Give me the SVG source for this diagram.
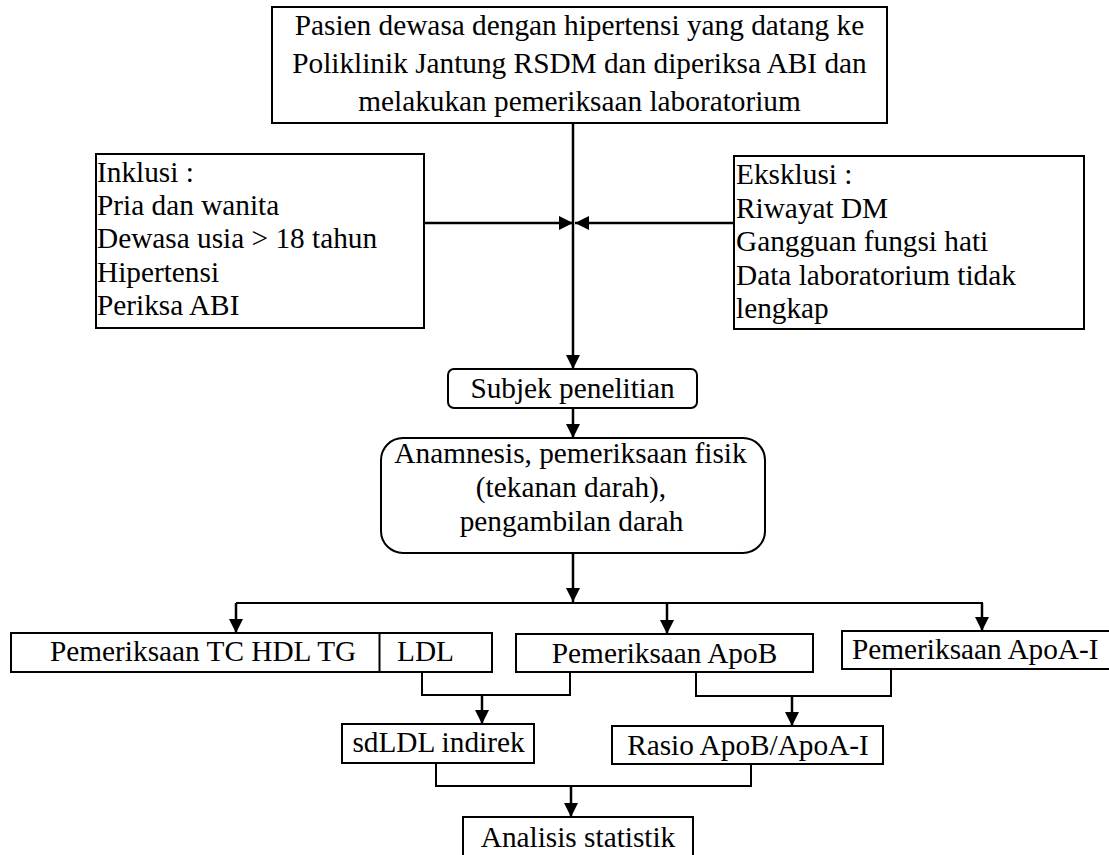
<svg xmlns="http://www.w3.org/2000/svg" width="1109" height="855" viewBox="0 0 1109 855" font-family="'Liberation Serif', 'DejaVu Serif', serif">
<style>
.box{fill:#fff;stroke:#000;stroke-width:2}
.t{font-family:'Liberation Serif','DejaVu Serif',serif;font-size:29.3px;fill:#000}
.m{text-anchor:middle}
.c{fill:none;stroke:#000;stroke-width:2}
.ca{fill:none;stroke:#000;stroke-width:2.5;marker-end:url(#ah)}
</style>
<defs>
<marker id="ah" viewBox="0 0 14 14" refX="14" refY="7" markerWidth="14" markerHeight="14" markerUnits="userSpaceOnUse" orient="auto">
<path d="M0,0 L14,7 L0,14 z" fill="#000"/>
</marker>
</defs>
<rect width="1109" height="855" fill="#fff"/>
<g id="connectors">
<line class="ca" x1="573" y1="123" x2="573" y2="369"/>
<line class="ca" x1="424" y1="223" x2="573" y2="223"/>
<line class="ca" x1="734" y1="223" x2="575" y2="223"/>
<line class="ca" x1="573" y1="408" x2="573" y2="438"/>
<line class="ca" x1="573" y1="553" x2="573" y2="602"/>
<line class="c" x1="236" y1="603" x2="983" y2="603"/>
<line class="ca" x1="236" y1="603" x2="236" y2="633"/>
<line class="ca" x1="667" y1="603" x2="667" y2="634"/>
<line class="ca" x1="982" y1="603" x2="982" y2="631"/>
<path class="c" d="M422,672 V695 H570 V672"/>
<line class="ca" x1="482" y1="695" x2="482" y2="724"/>
<path class="c" d="M696,672 V696 H891 V669"/>
<line class="ca" x1="792" y1="696" x2="792" y2="726"/>
<path class="c" d="M436,763 V786 H751 V764"/>
<line class="ca" x1="571" y1="786" x2="571" y2="817"/>
</g>
<g id="n-pasien">
<rect class="box" x="272" y="7" width="615" height="116"/>
<text class="t m" x="579.5" y="35">Pasien dewasa dengan hipertensi yang datang ke</text>
<text class="t m" x="579.5" y="73">Poliklinik Jantung RSDM dan diperiksa ABI dan</text>
<text class="t m" x="579.5" y="111">melakukan pemeriksaan laboratorium</text>
</g>
<g id="n-inklusi">
<rect class="box" x="96" y="154" width="328" height="174"/>
<text class="t" x="97" y="181.7">Inklusi :</text>
<text class="t" x="97" y="215">Pria dan wanita</text>
<text class="t" x="97" y="248.3">Dewasa usia &gt; 18 tahun</text>
<text class="t" x="97" y="281.6">Hipertensi</text>
<text class="t" x="97" y="315">Periksa ABI</text>
</g>
<g id="n-eksklusi">
<rect class="box" x="734" y="156" width="350" height="173"/>
<text class="t" x="736" y="184">Eksklusi :</text>
<text class="t" x="736" y="217.5">Riwayat DM</text>
<text class="t" x="736" y="251">Gangguan fungsi hati</text>
<text class="t" x="736" y="284.5">Data laboratorium tidak</text>
<text class="t" x="736" y="318">lengkap</text>
</g>
<g id="n-subjek">
<rect class="box" x="448" y="369" width="249" height="39" rx="6"/>
<text class="t m" x="572.5" y="398.3">Subjek penelitian</text>
</g>
<g id="n-anamnesis">
<rect class="box" x="381" y="438" width="384" height="115" rx="22"/>
<text class="t m" x="570.5" y="463.3">Anamnesis, pemeriksaan fisik</text>
<text class="t m" x="571" y="497">(tekanan darah),</text>
<text class="t m" x="571.5" y="531">pengambilan darah</text>
</g>
<g id="n-lipid">
<rect class="box" x="11" y="633" width="481" height="39"/>
<line x1="379.5" y1="633" x2="379.5" y2="672" stroke="#000" stroke-width="2"/>
<text class="t" x="50" y="661">Pemeriksaan TC HDL TG</text>
<text class="t" x="397" y="661">LDL</text>
</g>
<g id="n-apob">
<rect class="box" x="516" y="634" width="297" height="38"/>
<text class="t m" x="664.5" y="662.5">Pemeriksaan ApoB</text>
</g>
<g id="n-apoa">
<rect class="box" x="842" y="631" width="272" height="38"/>
<text class="t" x="852" y="658.5">Pemeriksaan ApoA-I</text>
</g>
<g id="n-sdldl">
<rect class="box" x="342" y="724" width="192" height="39"/>
<text class="t m" x="438.5" y="752.3">sdLDL indirek</text>
</g>
<g id="n-rasio">
<rect class="box" x="612" y="726" width="271" height="38"/>
<text class="t m" x="748" y="755">Rasio ApoB/ApoA-I</text>
</g>
<g id="n-analisis">
<rect class="box" x="463" y="817" width="230" height="50"/>
<text class="t m" x="578" y="846.7">Analisis statistik</text>
</g>
</svg>
